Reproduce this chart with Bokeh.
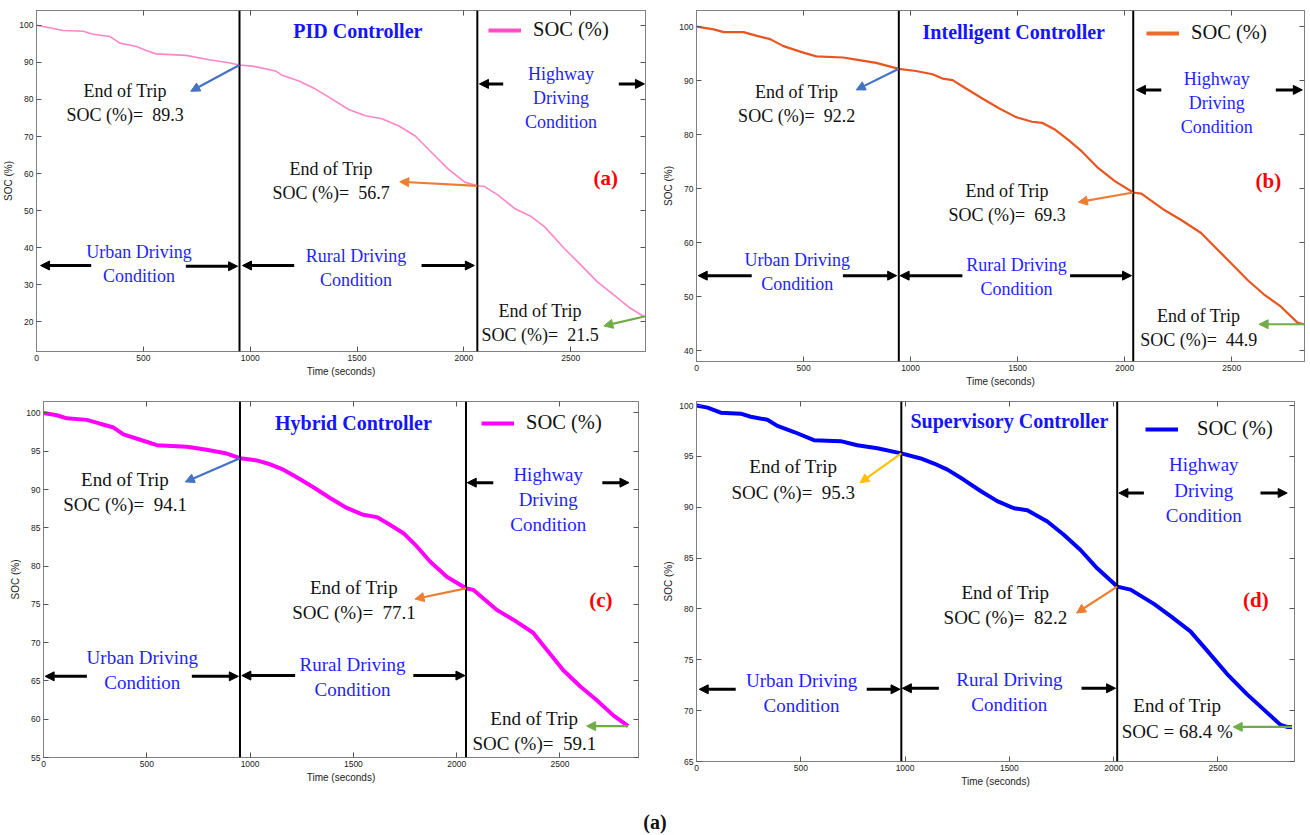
from bokeh.plotting import figure
from bokeh.models import (Span, Label, Arrow, NormalHead, LinearAxis, FixedTicker,
                          Range1d, Legend, LegendItem, Div)
from bokeh.layouts import column, row
from bokeh.embed import file_html
from bokeh.resources import INLINE

# ---------------- data: state of charge over the drive cycle ----------------
time_pid = [0, 48, 126, 219, 264, 343, 390, 468, 513, 560, 700, 808, 900, 950,
            1011, 1119, 1150, 1228, 1306, 1383, 1461, 1539, 1616, 1694, 1771, 1849,
            1927, 2004, 2063, 2097, 2160, 2237, 2315, 2377, 2470, 2548, 2625, 2703,
            2781, 2840]
soc_pid = [100, 99.5, 98.6, 98.4, 97.6, 97.0, 95.2, 94.3, 93.2, 92.3, 91.9, 90.7, 89.9, 89.3,
           89.0, 87.7, 86.5, 85.0, 82.8, 80.1, 77.3, 75.6, 74.8, 72.9, 70.2, 65.7,
           61.2, 57.7, 56.7, 56.5, 54.2, 50.6, 48.4, 45.7, 39.8, 35.3, 30.8, 27.2,
           23.6, 21.5]

time_int = [0, 80, 127, 220, 282, 344, 406, 499, 560, 685, 746, 839, 945,
            1025, 1103, 1149, 1196, 1257, 1335, 1413, 1490, 1567, 1614, 1676, 1738,
            1800, 1877, 1954, 2040, 2078, 2187, 2264, 2357, 2419, 2497, 2574, 2651,
            2729, 2807, 2835]
soc_int = [100, 99.5, 99.0, 99.0, 98.3, 97.7, 96.4, 95.2, 94.5, 94.3, 93.9, 93.3, 92.2,
           91.8, 91.2, 90.4, 90.1, 88.6, 86.7, 84.9, 83.3, 82.4, 82.2, 80.9, 79.0,
           76.9, 73.8, 71.4, 69.3, 69.1, 66.0, 64.2, 61.8, 59.3, 56.2, 53.1, 50.4,
           48.2, 45.2, 44.9]

time_hyb = [0, 65, 113, 210, 274, 339, 387, 468, 549, 694, 790, 887, 951,
            1032, 1097, 1161, 1226, 1306, 1387, 1468, 1548, 1613, 1677, 1742, 1806,
            1871, 1952, 2045, 2080, 2193, 2274, 2370, 2435, 2516, 2597, 2677, 2758,
            2830]
soc_hyb = [100, 99.7, 99.3, 99.1, 98.6, 98.1, 97.2, 96.5, 95.8, 95.6, 95.2, 94.7, 94.1,
           93.8, 93.3, 92.6, 91.6, 90.3, 88.9, 87.6, 86.7, 86.4, 85.4, 84.3, 82.6,
           80.6, 78.6, 77.1, 76.9, 74.3, 73.0, 71.3, 69.1, 66.4, 64.3, 62.5, 60.5,
           59.1]

time_sup = [0, 53, 116, 212, 260, 340, 388, 468, 563, 691, 771, 867, 982,
            1075, 1139, 1203, 1282, 1362, 1442, 1522, 1586, 1682, 1761, 1841, 1921,
            2017, 2081, 2193, 2273, 2368, 2448, 2544, 2640, 2720, 2800, 2832, 2855]
soc_sup = [100, 99.8, 99.3, 99.2, 98.9, 98.6, 98.0, 97.4, 96.6, 96.5, 96.1, 95.8, 95.3,
           94.8, 94.3, 93.7, 92.7, 91.6, 90.6, 89.9, 89.7, 88.6, 87.3, 85.8, 84.0,
           82.2, 81.9, 80.5, 79.3, 77.8, 75.9, 73.6, 71.6, 70.1, 68.6, 68.4, 68.4]

# end-of-section times (urban end, rural end) and SOC read-outs
section_ends_pid = [950, 2063]
section_ends_int = [945, 2040]
section_ends_hyb = [951, 2045]
section_ends_sup = [982, 2017]
end_soc_pid = [89.3, 56.7, 21.5]
end_soc_int = [92.2, 69.3, 44.9]
end_soc_hyb = [94.1, 77.1, 59.1]
end_soc_sup = [95.3, 82.2, 68.4]

x_ticks = [0, 500, 1000, 1500, 2000, 2500]
y_ticks_pid = [20, 30, 40, 50, 60, 70, 80, 90, 100]
y_ticks_int = [40, 50, 60, 70, 80, 90, 100]
y_ticks_hyb = [55, 60, 65, 70, 75, 80, 85, 90, 95, 100]
y_ticks_sup = [65, 70, 75, 80, 85, 90, 95, 100]

SERIF = "Liberation Serif"
SANS = "Liberation Sans"
BLUE_TXT = "#1f1fff"
ARROW_COLORS = {"blue": "#4472c4", "orange": "#ed7d31", "green": "#70ad47",
                "yellow": "#ffc000", "black": "#000000"}
NAN = float("nan")


def eot(v):
    return f"End of Trip\nSOC (%)=\u00a0 {v:.1f}"


def make_panel(cfg):
    p = figure(width=cfg["width"], height=cfg["height"],
               x_range=Range1d(0, cfg["xmax"]), y_range=Range1d(cfg["ymin"], cfg["ymax"]),
               output_backend="svg", toolbar_location=None,
               min_border_left=cfg["border"][0], min_border_right=cfg["border"][1],
               min_border_top=cfg["border"][2], min_border_bottom=cfg["border"][3])
    p.xgrid.visible = False
    p.ygrid.visible = False
    p.outline_line_color = "#808080"
    p.background_fill_color = "white"

    p.xaxis.ticker = FixedTicker(ticks=x_ticks)
    p.yaxis.ticker = FixedTicker(ticks=cfg["yticks"])
    p.xaxis.axis_label = "Time (seconds)"
    p.yaxis.axis_label = "SOC (%)"
    for ax in (p.xaxis[0], p.yaxis[0]):
        ax.major_tick_in = 5
        ax.major_tick_out = 0
        ax.minor_tick_line_color = None
        ax.major_tick_line_color = "#555555"
        ax.axis_line_color = "#808080"
        ax.major_label_text_font = SANS
        ax.major_label_text_font_size = "8.5px"
        ax.major_label_text_color = "#222222"
        ax.major_label_standoff = 3
        ax.axis_label_text_font = SANS
        ax.axis_label_text_font_size = "10px"
        ax.axis_label_text_font_style = "normal"
        ax.axis_label_text_color = "#222222"
        ax.axis_label_standoff = 2

    # tick marks on the opposite sides of the box (no labels there)
    for side, ticks in (("above", x_ticks), ("right", cfg["yticks"])):
        ax = LinearAxis(ticker=FixedTicker(ticks=ticks), major_tick_in=5, major_tick_out=0,
                        minor_tick_line_color=None, major_tick_line_color="#555555",
                        axis_line_color="#808080", major_label_text_font_size="1px",
                        major_label_text_color=None, major_label_standoff=0)
        p.add_layout(ax, side)

    # SOC trace
    p.line(cfg["t"], cfg["soc"], line_color=cfg["color"], line_width=cfg["lw"])

    # section boundaries
    for xe in cfg["ends"]:
        p.add_layout(Span(location=xe, dimension="height", line_color="black", line_width=2))

    # legend swatch (a bolder stroke than the trace itself)
    swatch = p.line(x=[NAN], y=[NAN], line_color=cfg["leg_color"], line_width=4)
    leg = Legend(items=[LegendItem(label="SOC (%)", renderers=[swatch])],
                 location=cfg["leg_loc"], glyph_width=33, glyph_height=20,
                 label_standoff=cfg["leg_standoff"], padding=0, margin=0, spacing=0,
                 label_text_font=SERIF, label_text_font_size="20.5px",
                 label_text_color="#111111", border_line_alpha=0,
                 background_fill_alpha=0)
    p.add_layout(leg)

    fs = cfg["fs"]
    # title and panel tag
    tx, ty = cfg["title_pos"]
    p.add_layout(Label(x=tx, y=ty, text=cfg["title"], text_font=SERIF, text_font_size="20px",
                       text_font_style="bold", text_color="#1414ff",
                       text_align="center", text_baseline="middle"))
    gx, gy = cfg["tag_pos"]
    p.add_layout(Label(x=gx, y=gy, text=cfg["tag"], text_font=SERIF, text_font_size="21px",
                       text_font_style="bold", text_color="#ff0000",
                       text_align="center", text_baseline="middle"))

    # end-of-trip readouts
    for (lx, ly), txt in zip(cfg["eot_pos"], cfg["eot_text"]):
        p.add_layout(Label(x=lx, y=ly, text=txt, text_font=SERIF, text_font_size=fs,
                           text_color="#111111", text_align="center", text_baseline="top",
                           text_line_height=1.2))

    # driving-condition names
    for (lx, ly), txt in zip(cfg["cond_pos"],
                             ["Urban Driving\nCondition", "Rural Driving\nCondition",
                              "Highway\nDriving\nCondition"]):
        p.add_layout(Label(x=lx, y=ly, text=txt, text_font=SERIF, text_font_size=fs,
                           text_color=BLUE_TXT, text_align="center", text_baseline="top",
                           text_line_height=1.2))

    # arrows
    for x0, y0, x1, y1, cname in cfg["arrows"]:
        c = ARROW_COLORS[cname]
        lw = 3 if cname == "black" else 2.2
        p.add_layout(Arrow(x_start=x0, y_start=y0, x_end=x1, y_end=y1,
                           line_color=c, line_width=lw,
                           end=NormalHead(size=9, fill_color=c, line_color=c, line_width=1)))
    return p


pid_cfg = dict(
    width=660, height=381, border=(33, 15, 9, 30), xmax=2850, ymin=12, ymax=104,
    yticks=y_ticks_pid, t=time_pid, soc=soc_pid, color="#ff85c8", lw=1.6,
    leg_color="#ff4fc4", leg_loc=(452, 310), leg_standoff=12, ends=section_ends_pid,
    title="PID Controller", title_pos=(1504, 98.4), tag="(a)", tag_pos=(2664, 58.9),
    fs="18px",
    eot_pos=[(415, 85.0), (1379, 64.0), (2357, 25.7)],
    eot_text=[eot(v) for v in end_soc_pid],
    cond_pos=[(480, 41.6), (1495, 40.5), (2455, 89.7)],
    arrows=[(section_ends_pid[0], end_soc_pid[0], 722, 82.2, "blue"),
            (section_ends_pid[1], end_soc_pid[1], 1700, 57.8, "orange"),
            (2850, end_soc_pid[2], 2655, 18.9, "green"),
            (256, 35.2, 19, 35.2, "black"), (699, 35.0, 941, 35.0, "black"),
            (1206, 35.2, 964, 35.2, "black"), (1802, 35.2, 2049, 35.2, "black"),
            (2184, 84.2, 2073, 84.2, "black"), (2725, 84.2, 2845, 84.2, "black")],
)

int_cfg = dict(
    width=650, height=391, border=(33, 6, 10, 28), xmax=2840, ymin=38, ymax=103,
    yticks=y_ticks_int, t=time_int, soc=soc_int, color="#e8551e", lw=2.2,
    leg_color="#ed6b2a", leg_loc=(450, 317), leg_standoff=12, ends=section_ends_int,
    title="Intelligent Controller", title_pos=(1482, 99.1), tag="(b)", tag_pos=(2671, 71.5),
    fs="18px",
    eot_pos=[(468, 89.8), (1451, 71.5), (2346, 48.3)],
    eot_text=[eot(v) for v in end_soc_int],
    cond_pos=[(471, 58.7), (1495, 57.7), (2430, 92.2)],
    arrows=[(section_ends_int[0], end_soc_int[0], 746, 88.3, "blue"),
            (section_ends_int[1], end_soc_int[1], 1784, 67.5, "orange"),
            (2838, end_soc_int[2], 2628, end_soc_int[2], "green"),
            (258, 53.9, 8, 53.9, "black"), (684, 53.9, 935, 53.9, "black"),
            (1242, 53.9, 951, 53.9, "black"), (1745, 53.9, 2032, 53.9, "black"),
            (2171, 88.3, 2055, 88.3, "black"), (2706, 88.3, 2830, 88.3, "black")],
)

hyb_cfg = dict(
    width=660, height=396, border=(43, 22, 9, 30), xmax=2880, ymin=55, ymax=101.5,
    yticks=y_ticks_hyb, t=time_hyb, soc=soc_hyb, color="#ff00ff", lw=4,
    leg_color="#ff00ff", leg_loc=(438, 323), leg_standoff=12, ends=section_ends_hyb,
    title="Hybrid Controller", title_pos=(1500, 98.7), tag="(c)", tag_pos=(2698, 75.6),
    fs="19px",
    eot_pos=[(395, 92.7), (1503, 78.6), (2376, 61.5)],
    eot_text=[eot(v) for v in end_soc_hyb],
    cond_pos=[(478, 69.4), (1496, 68.5), (2443, 93.4)],
    arrows=[(section_ends_hyb[0], end_soc_hyb[0], 686, 91.0, "blue"),
            (section_ends_hyb[1], end_soc_hyb[1], 1798, 75.7, "orange"),
            (2830, end_soc_hyb[2], 2629, end_soc_hyb[2], "green"),
            (210, 65.6, 8, 65.6, "black"), (718, 65.6, 943, 65.6, "black"),
            (1218, 65.7, 960, 65.7, "black"), (1790, 65.7, 2040, 65.7, "black"),
            (2177, 90.9, 2051, 90.9, "black"), (2705, 90.9, 2834, 90.9, "black")],
)

sup_cfg = dict(
    width=650, height=400, border=(36, 16, 10, 30), xmax=2867, ymin=65, ymax=100.4,
    yticks=y_ticks_sup, t=time_sup, soc=soc_sup, color="#0000ff", lw=4,
    leg_color="#0000ff", leg_loc=(449, 321), leg_standoff=19, ends=section_ends_sup,
    title="Supervisory Controller", title_pos=(1500, 98.5), tag="(d)", tag_pos=(2682, 80.9),
    fs="19px",
    eot_pos=[(464, 95.0), (1481, 82.7), (2305, 71.5)],
    eot_text=[eot(end_soc_sup[0]), eot(end_soc_sup[1]),
              f"End of Trip\nSOC = {end_soc_sup[2]:.1f} %"],
    cond_pos=[(504, 74.0), (1500, 74.1), (2432, 95.2)],
    arrows=[(section_ends_sup[0], end_soc_sup[0], 784, 92.4, "yellow"),
            (section_ends_sup[1], end_soc_sup[1], 1822, 79.6, "orange"),
            (2855, end_soc_sup[2], 2573, end_soc_sup[2], "green"),
            (188, 72.1, 13, 72.1, "black"), (816, 72.1, 976, 72.1, "black"),
            (1162, 72.2, 987, 72.2, "black"), (1846, 72.2, 2009, 72.2, "black"),
            (2145, 91.4, 2025, 91.4, "black"), (2704, 91.4, 2832, 91.4, "black")],
)

pa = make_panel(pid_cfg)
pb = make_panel(int_cfg)
pc = make_panel(hyb_cfg)
pd = make_panel(sup_cfg)

caption = Div(text="<div style=\"width:1310px;text-align:center;font-family:'Liberation Serif';"
                   "font-weight:bold;font-size:20px;line-height:20px;padding-top:21px;"
                   "margin:0;color:#111\">(a)</div>",
              width=1310, height=44, margin=0)

layout = column(row(pa, pb, spacing=0), row(pc, pd, spacing=0), caption, spacing=0)

with open("out.html", "w") as f:
    f.write(file_html(layout, INLINE, title="SOC comparison"))
